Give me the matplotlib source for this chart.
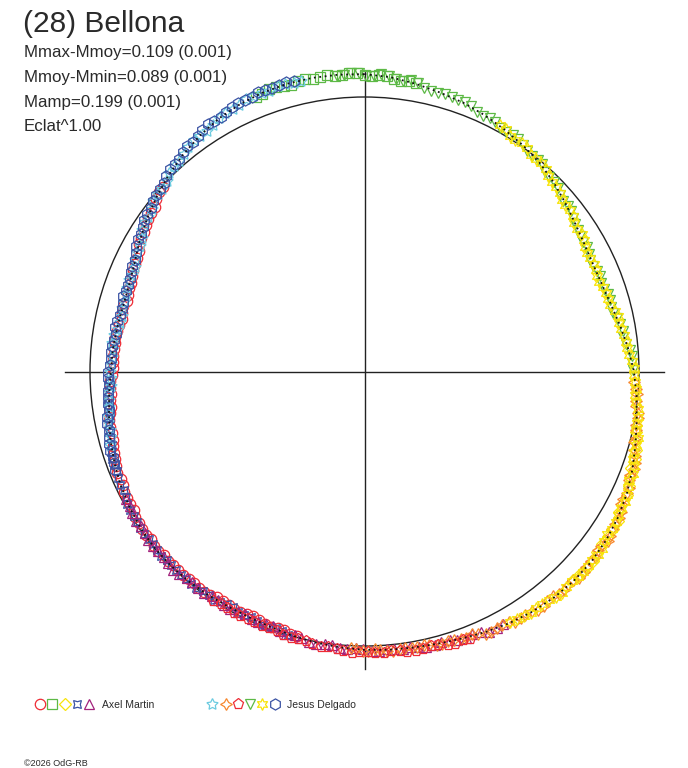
import numpy as np
import matplotlib
matplotlib.use("Agg")
import matplotlib.pyplot as plt
from matplotlib.patches import Circle

# ---------------- data (phase 0..1 clockwise from top, dmag relative to mean) ----------------
title = "(28) Bellona"
info_lines = ["Mmax-Mmoy=0.109 (0.001)", "Mmoy-Mmin=0.089 (0.001)",
              "Mamp=0.199 (0.001)", "Eclat^1.00"]
eclat_power = 1.00
observers = ["Axel Martin", "Jesus Delgado"]
copyright_text = "\u00a92026 OdG-RB"

fit_phase = [0.000, 0.014, 0.028, 0.042, 0.056, 0.069, 0.083, 0.097, 0.111, 0.125, 0.139, 0.153,
             0.167, 0.181, 0.194, 0.208, 0.222, 0.236, 0.250, 0.264, 0.278, 0.292, 0.306, 0.319,
             0.333, 0.347, 0.361, 0.375, 0.389, 0.403, 0.417, 0.431, 0.444, 0.458, 0.472, 0.486,
             0.500, 0.514, 0.528, 0.542, 0.556, 0.569, 0.583, 0.597, 0.611, 0.625, 0.639, 0.653,
             0.667, 0.681, 0.694, 0.708, 0.722, 0.736, 0.750, 0.764, 0.778, 0.792, 0.806, 0.819,
             0.833, 0.847, 0.861, 0.875, 0.889, 0.903, 0.917, 0.931, 0.944, 0.958, 0.972, 0.986]
fit_dmag = [-0.087, -0.080, -0.068, -0.056, -0.046, -0.034, -0.020, -0.007, 0.008, 0.028, 0.050, 0.070,
            0.084, 0.091, 0.089, 0.078, 0.060, 0.040, 0.020, 0.006, -0.008, -0.024, -0.042, -0.057,
            -0.069, -0.077, -0.082, -0.082, -0.078, -0.071, -0.061, -0.049, -0.038, -0.029, -0.023, -0.019,
            -0.015, -0.010, -0.004, 0.003, 0.009, 0.012, 0.011, 0.007, 0.003, 0.001, 0.001, 0.005,
            0.013, 0.022, 0.033, 0.046, 0.061, 0.074, 0.086, 0.090, 0.096, 0.101, 0.098, 0.085,
            0.060, 0.036, 0.012, -0.011, -0.032, -0.051, -0.067, -0.078, -0.085, -0.089, -0.090, -0.089]

# ---- Axel Martin ----
am_circ_phase = [0.540, 0.548, 0.556, 0.564, 0.572, 0.580, 0.588, 0.596, 0.604, 0.612, 0.620, 0.628,
                 0.636, 0.644, 0.652, 0.660, 0.668, 0.676, 0.684, 0.692, 0.700, 0.708, 0.716, 0.724,
                 0.732, 0.740, 0.748, 0.756, 0.764, 0.772, 0.780, 0.788, 0.796, 0.804, 0.812, 0.820,
                 0.828, 0.836, 0.844, 0.852, 0.860, 0.868,
                 0.544, 0.552, 0.560, 0.568, 0.576, 0.584, 0.592, 0.600, 0.608, 0.616, 0.624, 0.632,
                 0.640, 0.648, 0.656, 0.664, 0.672, 0.680, 0.688, 0.696, 0.704, 0.712, 0.720, 0.728,
                 0.736, 0.744, 0.752, 0.760, 0.768, 0.776, 0.784, 0.792, 0.800, 0.808, 0.816, 0.824,
                 0.832, 0.840, 0.848, 0.856, 0.864]
am_circ_dmag = [0.006, 0.014, 0.011, 0.017, 0.021, 0.014, 0.017, 0.012, 0.006, 0.011, 0.006, 0.007,
                0.003, 0.011, 0.010, 0.012, 0.021, 0.023, 0.032, 0.033, 0.044, 0.055, 0.057, 0.068,
                0.077, 0.080, 0.090, 0.096, 0.094, 0.095, 0.104, 0.105, 0.109, 0.101, 0.098, 0.088,
                0.078, 0.057, 0.047, 0.035, 0.017, 0.007,
                0.006, 0.016, 0.012, 0.024, 0.013, 0.018, 0.019, 0.006, 0.010, 0.005, 0.010, 0.010,
                0.005, 0.006, 0.013, 0.021, 0.019, 0.029, 0.029, 0.042, 0.048, 0.061, 0.058, 0.075,
                0.083, 0.082, 0.094, 0.091, 0.098, 0.098, 0.110, 0.102, 0.107, 0.104, 0.090, 0.084,
                0.064, 0.055, 0.039, 0.031, 0.007]
am_sq_phase = [0.940, 0.948, 0.956, 0.964, 0.972, 0.980, 0.988, 0.996, 0.004, 0.012, 0.020, 0.028,
               0.944, 0.952, 0.960, 0.968, 0.976, 0.984, 0.992, 0.000, 0.008, 0.016, 0.024]
am_sq_dmag = [-0.080, -0.090, -0.083, -0.091, -0.084, -0.093, -0.087, -0.093, -0.081, -0.082, -0.070, -0.071,
              -0.082, -0.089, -0.083, -0.091, -0.087, -0.086, -0.092, -0.084, -0.086, -0.074, -0.074]
am_dia_phase = [0.285, 0.295, 0.305, 0.315, 0.325, 0.335, 0.345, 0.355, 0.365, 0.375,
                0.290, 0.300, 0.310, 0.320, 0.330, 0.340, 0.350, 0.360, 0.370]
am_dia_dmag = [-0.013, -0.032, -0.036, -0.054, -0.058, -0.075, -0.074, -0.074, -0.085, -0.078,
               -0.020, -0.038, -0.043, -0.059, -0.063, -0.077, -0.071, -0.084, -0.080]
am_x4_phase = [0.545, 0.553, 0.561, 0.569, 0.577, 0.585, 0.593, 0.601, 0.609, 0.617, 0.625, 0.633,
               0.641, 0.649, 0.657, 0.665, 0.673, 0.681, 0.689, 0.697, 0.705, 0.713, 0.721, 0.729,
               0.737, 0.745,
               0.549, 0.557, 0.565, 0.573, 0.581, 0.589, 0.597, 0.605, 0.613, 0.621, 0.629, 0.637,
               0.645, 0.653, 0.661, 0.669, 0.677, 0.685, 0.693, 0.701, 0.709, 0.717, 0.725, 0.733, 0.741]
am_x4_dmag = [0.001, 0.012, 0.005, 0.014, 0.011, 0.016, 0.004, 0.009, -0.002, 0.003, 0.005, -0.001,
              0.006, 0.001, 0.008, 0.006, 0.020, 0.021, 0.031, 0.031, 0.045, 0.048, 0.065, 0.065,
              0.076, 0.078,
              0.010, 0.005, 0.012, 0.010, 0.018, 0.008, 0.010, 0.000, 0.003, 0.001, 0.006, 0.001,
              0.007, 0.001, 0.009, 0.010, 0.025, 0.024, 0.034, 0.034, 0.049, 0.054, 0.069, 0.069, 0.080]
am_tri_phase = [0.420, 0.429, 0.438, 0.447, 0.456, 0.465, 0.474, 0.483, 0.492, 0.501, 0.510, 0.519,
                0.528, 0.537, 0.546, 0.555, 0.564, 0.573, 0.582, 0.591, 0.600, 0.609, 0.618, 0.627,
                0.636, 0.645, 0.654, 0.663, 0.672,
                0.424, 0.433, 0.442, 0.451, 0.460, 0.469, 0.478, 0.487, 0.496, 0.505, 0.514, 0.523,
                0.532, 0.541, 0.550, 0.559, 0.568, 0.577, 0.586, 0.595, 0.604, 0.613, 0.622, 0.631,
                0.640, 0.649, 0.658, 0.667]
am_tri_dmag = [-0.054, -0.053, -0.037, -0.038, -0.026, -0.030, -0.019, -0.019, -0.022, -0.011, -0.013, -0.002,
               -0.007, 0.003, 0.001, 0.014, 0.010, 0.015, 0.006, 0.013, 0.004, 0.010, -0.001, 0.002,
               0.005, 0.001, 0.010, 0.008, 0.018,
               -0.057, -0.041, -0.040, -0.029, -0.032, -0.023, -0.022, -0.017, -0.019, -0.009, -0.012, -0.003,
               -0.005, 0.006, 0.006, 0.015, 0.009, 0.013, 0.007, 0.013, 0.005, 0.008, -0.004, 0.006,
               0.000, 0.010, 0.007, 0.016]

# ---- Jesus Delgado ----
jd_star5_phase = [0.705, 0.714, 0.723, 0.732, 0.741, 0.750, 0.759, 0.768, 0.777, 0.786, 0.795, 0.804,
                  0.813, 0.822, 0.831, 0.840, 0.849, 0.858, 0.867, 0.876, 0.885, 0.894, 0.903, 0.912,
                  0.921, 0.930, 0.939, 0.948, 0.957, 0.966,
                  0.710, 0.719, 0.728, 0.737, 0.746, 0.755, 0.764, 0.773, 0.782, 0.791, 0.800, 0.809,
                  0.818, 0.827, 0.836, 0.845, 0.854, 0.863, 0.872, 0.881, 0.890, 0.899, 0.908, 0.917,
                  0.926, 0.935, 0.944, 0.953, 0.962]
jd_star5_dmag = [0.040, 0.056, 0.056, 0.072, 0.083, 0.082, 0.090, 0.085, 0.099, 0.105, 0.098, 0.093,
                 0.095, 0.080, 0.070, 0.045, 0.035, 0.011, 0.007, -0.015, -0.023, -0.043, -0.050, -0.057,
                 -0.074, -0.076, -0.087, -0.082, -0.090, -0.087,
                 0.051, 0.052, 0.066, 0.075, 0.087, 0.084, 0.091, 0.088, 0.104, 0.099, 0.100, 0.092,
                 0.091, 0.071, 0.060, 0.037, 0.027, 0.007, -0.001, -0.023, -0.031, -0.050, -0.050, -0.068,
                 -0.072, -0.086, -0.083, -0.089, -0.085]
jd_star4_phase = [0.256, 0.263, 0.270, 0.277, 0.284, 0.291, 0.298, 0.305, 0.312, 0.319, 0.326, 0.333,
                  0.340, 0.347, 0.354, 0.361, 0.368, 0.375, 0.382, 0.389, 0.396, 0.403, 0.410, 0.417,
                  0.424, 0.431, 0.438, 0.445, 0.452, 0.459, 0.466, 0.473, 0.480, 0.487, 0.494, 0.501,
                  0.508,
                  0.260, 0.267, 0.274, 0.281, 0.288, 0.295, 0.302, 0.309, 0.316, 0.323, 0.330, 0.337,
                  0.344, 0.351, 0.358, 0.365, 0.372, 0.379, 0.386, 0.393, 0.400, 0.407, 0.414, 0.421,
                  0.428, 0.435, 0.442, 0.449, 0.456, 0.463, 0.470, 0.477, 0.484, 0.491, 0.498, 0.505]
jd_star4_dmag = [0.019, 0.003, 0.002, -0.013, -0.012, -0.016, -0.034, -0.046, -0.046, -0.057, -0.057, -0.072,
                 -0.071, -0.084, -0.074, -0.081, -0.086, -0.079, -0.082, -0.072, -0.080, -0.069, -0.069, -0.057,
                 -0.054, -0.055, -0.038, -0.040, -0.030, -0.033, -0.020, -0.024, -0.019, -0.024, -0.013, -0.018,
                 -0.011,
                 0.008, 0.007, -0.008, -0.010, -0.018, -0.023, -0.043, -0.042, -0.054, -0.054, -0.069, -0.070,
                 -0.081, -0.075, -0.080, -0.081, -0.087, -0.079, -0.080, -0.072, -0.077, -0.066, -0.067, -0.054,
                 -0.058, -0.043, -0.041, -0.032, -0.036, -0.025, -0.025, -0.018, -0.024, -0.016, -0.020, -0.013]
jd_pent_phase = [0.440, 0.449, 0.458, 0.467, 0.476, 0.485, 0.494, 0.503, 0.512, 0.521, 0.530, 0.539,
                 0.548, 0.557, 0.566, 0.575, 0.584, 0.593,
                 0.444, 0.453, 0.462, 0.471, 0.480, 0.489, 0.498, 0.507, 0.516, 0.525, 0.534, 0.543,
                 0.552, 0.561, 0.570, 0.579, 0.588]
jd_pent_dmag = [-0.049, -0.047, -0.035, -0.035, -0.036, -0.026, -0.028, -0.023, -0.024, -0.013, -0.013, -0.006,
                -0.006, 0.004, 0.002, 0.001, 0.004, -0.002,
                -0.045, -0.045, -0.033, -0.039, -0.027, -0.029, -0.023, -0.028, -0.017, -0.016, -0.006, -0.008,
                0.002, -0.001, 0.004, -0.001, 0.005]
jd_tri_phase = [0.985, 0.993, 0.001, 0.009, 0.017, 0.025, 0.033, 0.041, 0.049, 0.057, 0.065, 0.073,
                0.081, 0.089, 0.097, 0.105, 0.113, 0.121, 0.129, 0.137, 0.145, 0.153, 0.161, 0.169,
                0.177, 0.185, 0.193, 0.201, 0.209, 0.217, 0.225, 0.233, 0.241, 0.249,
                0.989, 0.997, 0.005, 0.013, 0.021, 0.029, 0.037, 0.045, 0.053, 0.061, 0.069, 0.077,
                0.085, 0.093, 0.101, 0.109, 0.117, 0.125, 0.133, 0.141, 0.149, 0.157, 0.165, 0.173,
                0.181, 0.189, 0.197, 0.205, 0.213, 0.221, 0.229, 0.237, 0.245]
jd_tri_dmag = [-0.085, -0.091, -0.080, -0.088, -0.075, -0.077, -0.060, -0.051, -0.053, -0.051, -0.031, -0.032,
               -0.018, -0.019, -0.006, 0.007, 0.006, 0.025, 0.032, 0.052, 0.053, 0.072, 0.082, 0.082,
               0.095, 0.086, 0.090, 0.078, 0.082, 0.069, 0.053, 0.048, 0.028, 0.025,
               -0.085, -0.090, -0.082, -0.085, -0.072, -0.071, -0.053, -0.056, -0.050, -0.044, -0.028, -0.027,
               -0.016, -0.017, 0.003, 0.004, 0.020, 0.027, 0.045, 0.049, 0.065, 0.074, 0.086, 0.087,
               0.094, 0.084, 0.086, 0.077, 0.080, 0.059, 0.054, 0.034, 0.029]
jd_star6_phase = [0.080, 0.088, 0.096, 0.104, 0.112, 0.120, 0.128, 0.136, 0.144, 0.152, 0.160, 0.168,
                  0.176, 0.184, 0.192, 0.200, 0.208, 0.216, 0.224, 0.232, 0.240, 0.248, 0.256, 0.264,
                  0.272, 0.280, 0.288, 0.296, 0.304, 0.312, 0.320, 0.328, 0.336, 0.344, 0.352, 0.360,
                  0.368, 0.376, 0.384, 0.392, 0.400, 0.408, 0.416,
                  0.084, 0.092, 0.100, 0.108, 0.116, 0.124, 0.132, 0.140, 0.148, 0.156, 0.164, 0.172,
                  0.180, 0.188, 0.196, 0.204, 0.212, 0.220, 0.228, 0.236, 0.244, 0.252, 0.260, 0.268,
                  0.276, 0.284, 0.292, 0.300, 0.308, 0.316, 0.324, 0.332, 0.340, 0.348, 0.356, 0.364,
                  0.372, 0.380, 0.388, 0.396, 0.404, 0.412]
jd_star6_dmag = [-0.027, -0.011, -0.010, 0.005, 0.004, 0.024, 0.032, 0.053, 0.053, 0.071, 0.071, 0.089,
                 0.090, 0.088, 0.095, 0.083, 0.083, 0.061, 0.061, 0.045, 0.038, 0.018, 0.016, 0.012,
                 -0.005, -0.010, -0.026, -0.026, -0.042, -0.045, -0.061, -0.061, -0.072, -0.069, -0.084, -0.080,
                 -0.085, -0.077, -0.086, -0.075, -0.068, -0.069, -0.058,
                 -0.022, -0.007, -0.005, 0.008, 0.010, 0.030, 0.040, 0.057, 0.060, 0.074, 0.076, 0.092,
                 0.086, 0.096, 0.087, 0.086, 0.068, 0.063, 0.050, 0.046, 0.026, 0.020, 0.010, 0.006,
                 -0.011, -0.014, -0.028, -0.031, -0.048, -0.051, -0.064, -0.063, -0.073, -0.074, -0.086, -0.081,
                 -0.084, -0.078, -0.083, -0.069, -0.073, -0.062]
jd_hex_phase = [0.690, 0.698, 0.706, 0.714, 0.722, 0.730, 0.738, 0.746, 0.754, 0.762, 0.770, 0.778,
                0.786, 0.794, 0.802, 0.810, 0.818, 0.826, 0.834, 0.842, 0.850, 0.858, 0.866, 0.874,
                0.882, 0.890, 0.898, 0.906, 0.914, 0.922, 0.930, 0.938, 0.946, 0.954, 0.962,
                0.694, 0.702, 0.710, 0.718, 0.726, 0.734, 0.742, 0.750, 0.758, 0.766, 0.774, 0.782,
                0.790, 0.798, 0.806, 0.814, 0.822, 0.830, 0.838, 0.846, 0.854, 0.862, 0.870, 0.878,
                0.886, 0.894, 0.902, 0.910, 0.918, 0.926, 0.934, 0.942, 0.950, 0.958]
jd_hex_dmag = [0.023, 0.034, 0.036, 0.049, 0.054, 0.067, 0.071, 0.074, 0.083, 0.083, 0.091, 0.088,
               0.096, 0.096, 0.092, 0.093, 0.080, 0.069, 0.050, 0.042, 0.024, 0.012, 0.002, -0.017,
               -0.026, -0.040, -0.048, -0.064, -0.069, -0.073, -0.085, -0.086, -0.092, -0.091, -0.094,
               0.032, 0.031, 0.045, 0.049, 0.065, 0.067, 0.076, 0.075, 0.085, 0.084, 0.094, 0.090,
               0.099, 0.090, 0.095, 0.084, 0.079, 0.058, 0.049, 0.029, 0.020, 0.004, -0.004, -0.024,
               -0.030, -0.048, -0.054, -0.070, -0.067, -0.081, -0.083, -0.093, -0.090, -0.096]

# ---------------- styles ----------------
RED, GREEN, YELLOW, BLUE = "#ee2b35", "#5db946", "#f8e40a", "#3b53a4"
PURPLE, CYAN, ORANGE = "#a3237d", "#6ccbe0", "#f7882f"
TXT = "#2a2a2a"

am_series = [
    (am_circ_phase, am_circ_dmag, "o", RED, 7.5),
    (am_sq_phase, am_sq_dmag, "s", GREEN, 7.0),
    (am_dia_phase, am_dia_dmag, "D", YELLOW, 6.0),
    (am_x4_phase, am_x4_dmag, (4, 1, 45), BLUE, 8.0),
    (am_tri_phase, am_tri_dmag, "^", PURPLE, 7.5),
]
jd_series = [
    (jd_star5_phase, jd_star5_dmag, (5, 1, 0), CYAN, 8.5),
    (jd_star4_phase, jd_star4_dmag, (4, 1, 0), ORANGE, 8.5),
    (jd_pent_phase, jd_pent_dmag, "p", RED, 8.0),
    (jd_tri_phase, jd_tri_dmag, "v", GREEN, 7.5),
    (jd_star6_phase, jd_star6_dmag, (6, 1, 0), YELLOW, 8.5),
    (jd_hex_phase, jd_hex_dmag, "h", BLUE, 8.0),
]

W, H = 688, 768
fig = plt.figure(figsize=(W / 100, H / 100), dpi=100)
fig.patch.set_facecolor("white")

cx, cy, R = 364.5, 371.5, 274.5
half = 1.2
size = 2 * half * R
ax = fig.add_axes([(cx - half * R) / W, (H - cy - half * R) / H, size / W, size / H])
ax.set_xlim(-half, half)
ax.set_ylim(-half, half)
ax.axis("off")


def to_xy(phase, dmag):
    p = np.asarray(phase, dtype=float)
    r = (10 ** (-0.4 * np.asarray(dmag, dtype=float))) ** eclat_power
    th = 2 * np.pi * p
    return r * np.sin(th), r * np.cos(th)


# axes cross and mean circle
ax.plot([-1.09, 1.09], [0, 0], color="#222222", lw=1.0, zorder=1)
ax.plot([0, 0], [-1.085, 1.09], color="#222222", lw=1.0, zorder=1)
ax.add_patch(Circle((0, 0), 1.0, fill=False, ec="#222222", lw=1.0, zorder=1))

for series in (am_series, jd_series):
    for ph, dm, mk, col, ms in series:
        x, y = to_xy(ph, dm)
        ax.plot(x, y, ls="none", marker=mk, ms=ms, mfc="none", mec=col, mew=0.9, zorder=3)

fx, fy = to_xy(fit_phase + fit_phase[:1], fit_dmag + fit_dmag[:1])
ax.plot(fx, fy, color="#111111", lw=1.3, ls=(0, (1.0, 2.0)), zorder=5)

# ---------------- texts ----------------
def ftext(x, y, s, **kw):
    fig.text(x / W, 1 - y / H, s, **kw)

ftext(23, 32.5, title, fontsize=21.5, family="Liberation Sans", color=TXT, va="baseline")
for i, line in enumerate(info_lines):
    ftext(24, 57.5 + 24.5 * i, line, fontsize=12.2, family="Liberation Sans", color=TXT, va="baseline")

# legend (overlay axes in pixel coordinates)
lax = fig.add_axes([0, 0, 1, 1])
lax.set_xlim(0, W)
lax.set_ylim(H, 0)
lax.axis("off")
lax.patch.set_visible(False)

leg_y = 704
am_leg_x = [40, 52, 65, 77, 89]
jd_leg_x = [212, 226, 238, 250, 262, 275]
for (ph, dm, mk, col, ms), lx in zip(am_series, am_leg_x):
    lax.plot([lx], [leg_y], ls="none", marker=mk, ms=ms, mfc="none", mec=col, mew=0.9)
for (ph, dm, mk, col, ms), lx in zip(jd_series, jd_leg_x):
    lax.plot([lx], [leg_y], ls="none", marker=mk, ms=ms, mfc="none", mec=col, mew=0.9)
ftext(102, 708.5, observers[0], fontsize=7.5, family="Liberation Sans", color=TXT, va="baseline")
ftext(287, 708.5, observers[1], fontsize=7.5, family="Liberation Sans", color=TXT, va="baseline")
ftext(24, 766, copyright_text, fontsize=6.5, family="Liberation Sans", color=TXT, va="baseline")

fig.savefig("out.png", dpi=100, facecolor="white")
